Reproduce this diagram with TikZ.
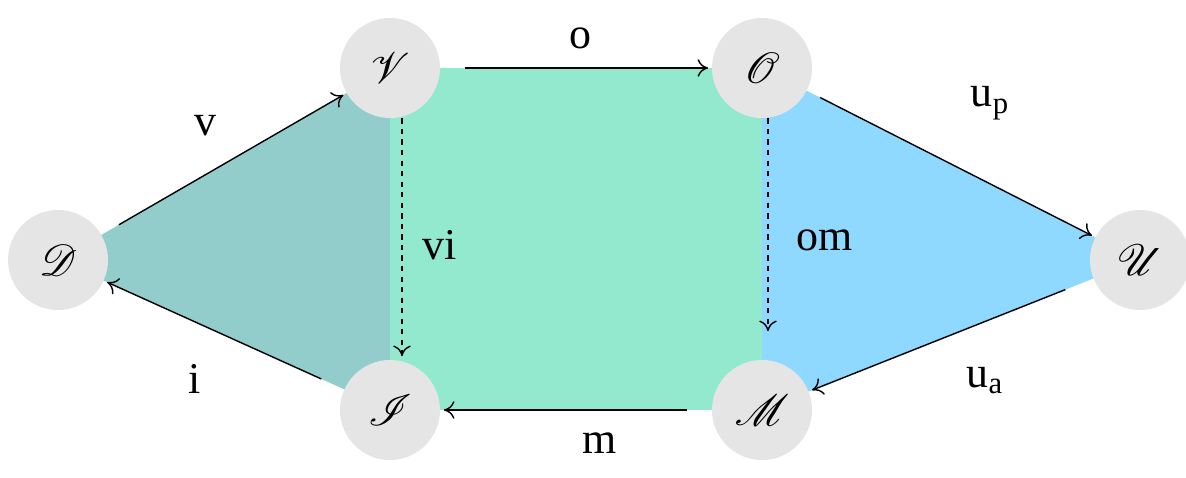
\documentclass[tikz,border=0pt]{standalone}
\usepackage{fontspec}
\usepackage{mathrsfs}
\setmainfont{Liberation Serif}
\usetikzlibrary{arrows.meta,shapes.geometric}
\definecolor{cleft}{HTML}{93CDCB}
\definecolor{cmid}{HTML}{93E9CE}
\definecolor{cright}{HTML}{8FD8FF}
\tikzset{
  state/.style={ellipse,fill=gray!20,minimum width=2cm,minimum height=2cm,inner sep=0pt,font=\fontsize{27}{30}\selectfont},
  arr/.style={thick,-{To[length=6pt,width=10pt]},shorten >=2pt},
  lab/.style={font=\fontsize{25}{28}\selectfont}
}
\begin{document}
\begin{tikzpicture}
  \useasboundingbox (0,0) rectangle (23.72,9.56);
  % regions
  \fill[cleft] (1.16,4.36) -- (7.8,8.2) -- (7.8,1.36) -- cycle;
  \fill[cmid] (7.8,8.2) -- (15.24,8.2) -- (15.24,1.36) -- (7.8,1.36) -- cycle;
  \fill[cright] (15.24,8.2) -- (22.8,4.36) -- (15.24,1.36) -- cycle;
  % states
  \node[state] (D) at (1.16,4.36) {$\mathscr{D}$};
  \node[state] (V) at (7.8,8.2) {$\mathscr{V}$};
  \node[state] (O) at (15.24,8.2) {$\mathscr{O}$};
  \node[state] (U) at (22.8,4.36) {$\mathscr{U}$};
  \node[state] (I) at (7.8,1.36) {$\mathscr{I}$};
  \node[state] (M) at (15.24,1.36) {$\mathscr{M}$};
  % transitions
  \draw[arr,shorten <=0.4cm] (D) -- (V);
  \draw[arr,shorten <=0.5cm] (I) -- (D);
  \draw[arr,shorten <=0.5cm] (V) -- (O);
  \draw[arr,shorten <=0.3cm] (O) -- (U);
  \draw[arr,shorten <=0.6cm] (U) -- (M);
  \draw[arr,shorten <=0.5cm] (M) -- (I);
  \draw[arr,dashed] ([xshift=0.24cm]V.south) -- ([xshift=0.24cm]I.north);
  \draw[arr,dashed] ([xshift=0.12cm]O.south) -- ([xshift=0.12cm,yshift=0.5cm]M.north);
  % labels
  \node[lab] (lv) at (4.1,7.05) {v};
  \node[lab] (lo) at (11.6,8.8) {o};
  \node[lab] (lup) at (19.8,7.5) {u$_\mathrm{p}$};
  \node[lab] (lvi) at (8.8,4.65) {vi};
  \node[lab] (lom) at (16.5,4.75) {om};
  \node[lab] (li) at (3.9,1.98) {i};
  \node[lab] (lm) at (12.0,0.7) {m};
  \node[lab] (lua) at (19.7,1.95) {u$_\mathrm{a}$};
\end{tikzpicture}
\end{document}
